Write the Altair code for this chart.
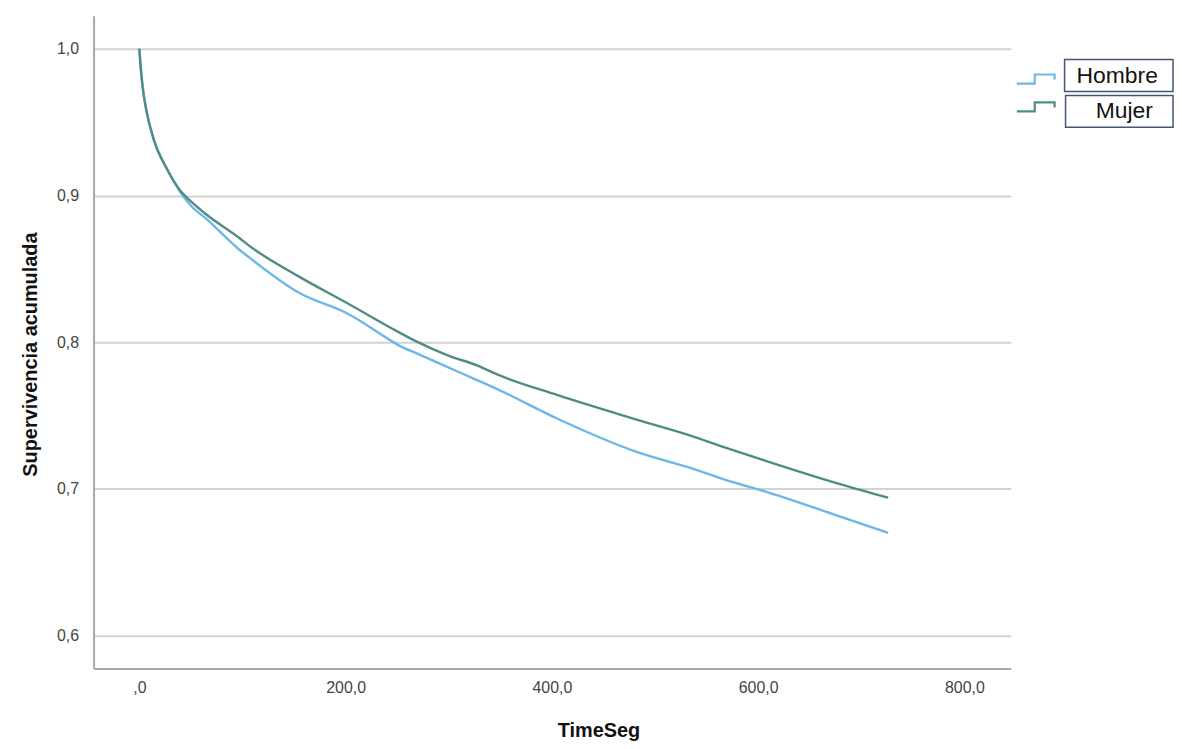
import altair as alt
import pandas as pd

# Kaplan-Meier style curves
hombre_t = [0, 1, 3, 6.5, 14.5, 26, 40, 50, 65, 97, 106, 154, 203, 244, 251, 270, 299, 328, 347,
            405, 483, 540, 569, 608, 676, 726]
hombre_v = [1.0, 0.99, 0.975, 0.959, 0.937, 0.919, 0.902, 0.893, 0.884, 0.863, 0.858, 0.834, 0.819,
            0.801, 0.798, 0.792, 0.783, 0.774, 0.768, 0.748, 0.725, 0.713, 0.706, 0.698, 0.682, 0.670]
mujer_t = [0, 1, 3, 6.5, 14.5, 26, 40, 50, 65, 97, 106, 154, 203, 251, 270, 299, 328, 347,
           405, 483, 540, 569, 608, 676, 726]
mujer_v = [1.0, 0.99, 0.975, 0.959, 0.937, 0.919, 0.903, 0.896, 0.887, 0.871, 0.866, 0.845, 0.826,
           0.807, 0.800, 0.791, 0.784, 0.778, 0.764, 0.747, 0.735, 0.728, 0.719, 0.704, 0.694]

series = ["Hombre", "Mujer"]
colors = ["#6cb7e8", "#4f8c84"]
x_ticks = [0, 200, 400, 600, 800]
y_ticks = [0.6, 0.7, 0.8, 0.9, 1.0]

rows = []
for t, v in zip(hombre_t, hombre_v):
    rows.append({"TimeSeg": t, "Supervivencia": v, "Sexo": "Hombre"})
for t, v in zip(mujer_t, mujer_v):
    rows.append({"TimeSeg": t, "Supervivencia": v, "Sexo": "Mujer"})
df = pd.DataFrame(rows)

W, H = 922, 656

xscale = alt.Scale(domain=[-44.4, 845], nice=False, zero=False)
yscale = alt.Scale(domain=[0.5776, 1.0224], nice=False, zero=False)

lines = alt.Chart(df).mark_line(strokeWidth=2.4, interpolate="monotone").encode(
    x=alt.X("TimeSeg:Q", scale=xscale,
            axis=alt.Axis(values=x_ticks, grid=False, ticks=False, domain=True,
                          domainColor="#a8a8a8", domainWidth=2,
                          labelExpr="datum.value == 0 ? ',0' : replace(format(datum.value, '.1f'), '.', ',')",
                          labelFont="Liberation Sans", labelFontSize=16, labelColor="#444444",
                          labelPadding=11,
                          title="TimeSeg", titleFont="Liberation Sans", titleFontSize=20,
                          titleFontWeight="bold", titleColor="#111111",
                          titleX=466, titleY=62, titleBaseline="middle", titleAnchor="start")),
    y=alt.Y("Supervivencia:Q", scale=yscale,
            axis=alt.Axis(values=y_ticks, grid=True, gridColor="#d2d2d2", gridWidth=2,
                          ticks=False, domain=True, domainColor="#a8a8a8", domainWidth=2,
                          labelExpr="replace(format(datum.value, '.1f'), '.', ',')",
                          labelFont="Liberation Sans", labelFontSize=16, labelColor="#444444",
                          labelPadding=15,
                          title="Supervivencia acumulada", titleFont="Liberation Sans",
                          titleFontSize=20, titleFontWeight="bold", titleColor="#111111",
                          titleX=-63, titleY=340, titleAngle=-90, titleBaseline="middle",
                          titleAlign="center")),
    color=alt.Color("Sexo:N", scale=alt.Scale(domain=series, range=colors), legend=None),
    detail="Sexo:N",
)

# hand-drawn legend, as in the reference
leg_df = pd.DataFrame({"Sexo": series})
step_path = "M-1,0.24H-0.05V-0.24H1V0.03"

layers = [lines]
box_y = [(44, 76), (80, 112)]
glyph_y = [63.5, 91.5]
text_pos = [(988, 60, "left"), (1036, 96, "center")]
for i, name in enumerate(series):
    d = alt.Chart(leg_df).transform_filter(alt.datum.Sexo == name)
    layers.append(d.mark_rect(fill=None, stroke="#44557a", strokeWidth=1.5).encode(
        x=alt.value(976 + (1 if i else 0)), x2=alt.value(1085),
        y=alt.value(box_y[i][0]), y2=alt.value(box_y[i][1])))
    layers.append(d.mark_point(shape=step_path, filled=False, size=1444, strokeWidth=2.2,
                               color=colors[i], opacity=1).encode(
        x=alt.value(947), y=alt.value(glyph_y[i])))
    tx, ty, al = text_pos[i]
    layers.append(d.mark_text(font="Liberation Sans", fontSize=23, color="#111111",
                              align=al, baseline="middle").encode(
        x=alt.value(tx), y=alt.value(ty), text="Sexo:N"))

chart = alt.layer(*layers).properties(
    width=W, height=H,
    background="white",
    autosize=alt.AutoSizeParams(type="none"),
    padding={"left": 86, "top": 6, "right": 164, "bottom": 71},
).configure_view(stroke="transparent", strokeWidth=0)

chart.save("out.html", embed_options={"renderer": "svg", "actions": False})
